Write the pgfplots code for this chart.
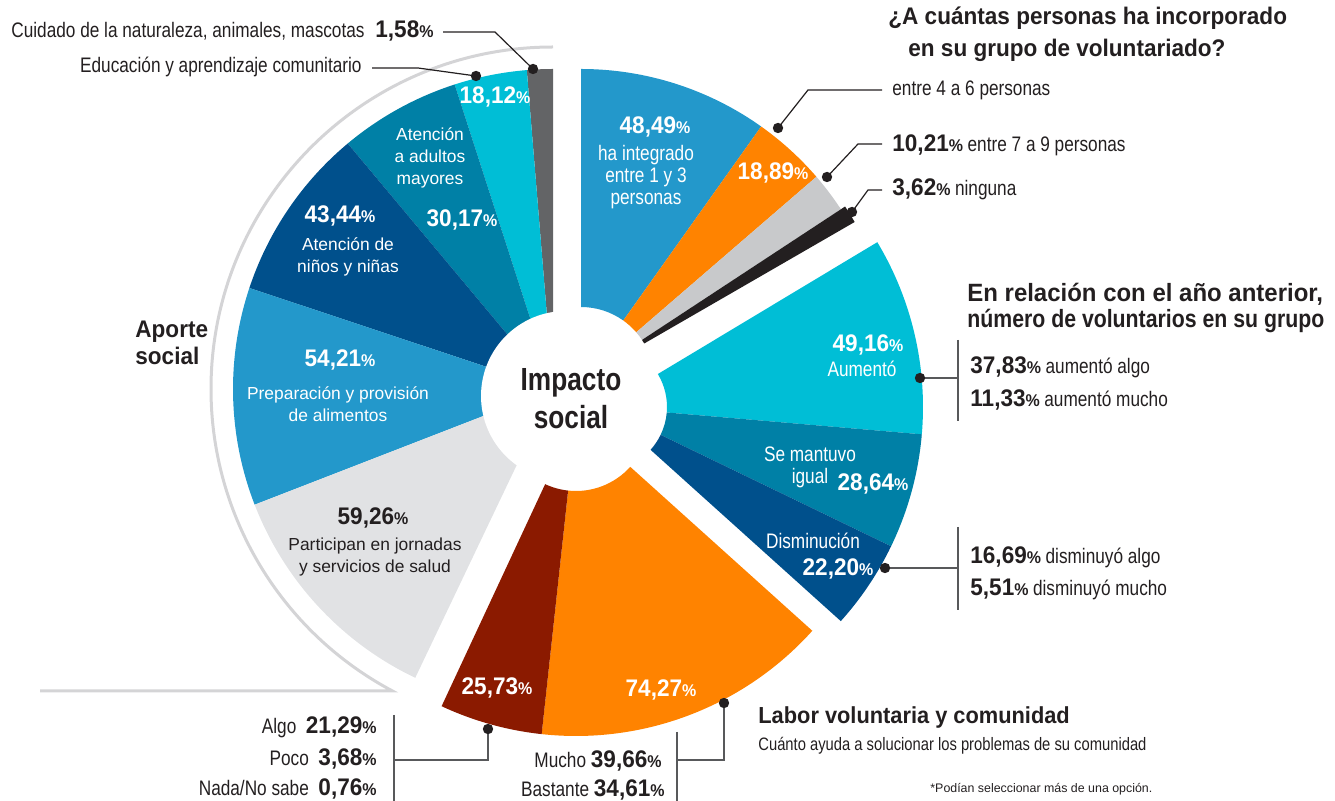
\documentclass[border=0pt]{standalone}
\usepackage{fontspec}
\setmainfont{Liberation Sans}[FakeStretch=0.82]
\newfontfamily\hd{Liberation Sans}[FakeStretch=0.94]
\newfontfamily\wide{Liberation Sans}
\usepackage{pgfplots}
\pgfplotsset{compat=1.18}

\definecolor{cblue}{HTML}{2398CB}
\definecolor{corange}{HTML}{FF8300}
\definecolor{cgray}{HTML}{C8C9CB}
\definecolor{cblack}{HTML}{231F20}
\definecolor{ccyan}{HTML}{00BED6}
\definecolor{cteal}{HTML}{0080A6}
\definecolor{cdblue}{HTML}{00508C}
\definecolor{cdred}{HTML}{8B1A00}
\definecolor{clgray}{HTML}{E1E2E4}
\definecolor{cdgray}{HTML}{636466}
\definecolor{ctext}{HTML}{231F20}
\definecolor{cring}{HTML}{D4D4D6}
\definecolor{cbar}{HTML}{58595B}

% ring sector: centre x, centre y, start angle, end angle, inner r, outer r, colour (pixels)
\newcommand{\sector}[7]{%
  \fill[#7] ([shift={({#3}:{#5*0.5pt})}]axis cs:#1,#2)
    -- ([shift={({#3}:{#6*0.5pt})}]axis cs:#1,#2)
    arc[start angle={#3}, end angle={#4}, radius={#6*0.5pt}]
    -- ([shift={({#4}:{#5*0.5pt})}]axis cs:#1,#2)
    arc[start angle={#4}, end angle={#3}, radius={#5*0.5pt}] -- cycle;}
\newcommand{\ldot}[2]{\fill[ctext] (axis cs:#1,#2) circle[radius=2.6pt];}
\newcommand\pc{{\fontsize{8.5}{9}\selectfont\%}}
\newcommand\nm[1]{{\hd\bfseries\fontsize{12}{13}\selectfont#1\pc}}
\newcommand\tx{\fontsize{10.5}{11}\selectfont}

\begin{document}
\begin{tikzpicture}[every node/.style={inner sep=0pt}]
\begin{axis}[name=ax, x=0.5pt, y=0.5pt, xmin=0, xmax=1335, ymin=0, ymax=801,
  y dir=reverse, hide axis, clip=false, anchor=south west, at={(0,0)},
  disabledatascaling]

% outer ring of "Aporte social"
\draw[cring, line width=1.5pt] ([shift={(90:171pt)}]axis cs:553,389)
  arc[start angle=90, end angle=242, radius=171pt] -- (axis cs:40,691);

% Aporte social (k = 0.73 deg per %)
\sector{553}{389}{90}{94.7}{66}{320}{cdgray}     % 1,58
\sector{553}{389}{94.7}{107.9}{66}{320}{ccyan}   % 18,12
\sector{553}{389}{107.9}{129.9}{66}{320}{cteal}  % 30,17
\sector{553}{389}{129.9}{161.6}{66}{320}{cdblue} % 43,44
\sector{553}{389}{161.6}{201.2}{66}{320}{cblue}  % 54,21
\sector{553}{389}{201.2}{244.5}{66}{320}{clgray} % 59,26

% personas incorporadas
\sector{581}{380}{90}{54.6}{73}{311}{cblue}      % 48,49
\sector{581}{380}{54.6}{40.8}{73}{311}{corange}  % 18,89
\sector{581}{380}{40.8}{33.3}{73}{311}{cgray}    % 10,21
\sector{581}{380}{33.3}{30.0}{73}{316}{cblack}   % 3,62

% año anterior
\sector{603}{407}{31}{-4.9}{64}{320}{ccyan}      % 49,16
\sector{603}{407}{-4.9}{-25.8}{64}{320}{cteal}   % 28,64
\sector{603}{407}{-25.8}{-42}{64}{320}{cdblue}   % 22,20

% labor voluntaria
\sector{576}{418}{-42}{-96.2}{73}{318}{corange}  % 74,27
\sector{576}{418}{-96.2}{-115}{73}{318}{cdred}   % 25,73

\fill[white] (axis cs:566,396) circle[radius=42.5pt];
\node[align=center, text=ctext, font=\bfseries\fontsize{16}{19}\selectfont] at (axis cs:571,399) {Impacto\\social};

% leaders
\draw[ctext, line width=0.6pt] (axis cs:443,32) -- (axis cs:495,32) -- (axis cs:533,69);
\draw[ctext, line width=0.6pt] (axis cs:372,68) -- (axis cs:418,68) -- (axis cs:476,76);
\draw[ctext, line width=0.6pt] (axis cs:778,128) -- (axis cs:808,90) -- (axis cs:882,90);
\draw[ctext, line width=0.6pt] (axis cs:827,177) -- (axis cs:858,144) -- (axis cs:882,144);
\draw[ctext, line width=0.6pt] (axis cs:852,212) -- (axis cs:868,190) -- (axis cs:882,190);
\draw[cbar, line width=0.8pt] (axis cs:920,378) -- (axis cs:958,378);
\draw[cbar, line width=0.8pt] (axis cs:958,340) -- (axis cs:958,421);
\draw[cbar, line width=0.8pt] (axis cs:885,568) -- (axis cs:958,568);
\draw[cbar, line width=0.8pt] (axis cs:958,527) -- (axis cs:958,610);
\draw[cbar, line width=0.8pt] (axis cs:394,715) -- (axis cs:394,801);
\draw[cbar, line width=0.8pt] (axis cs:394,760) -- (axis cs:488,760) -- (axis cs:488,729);
\draw[cbar, line width=0.8pt] (axis cs:677,732) -- (axis cs:677,801);
\draw[cbar, line width=0.8pt] (axis cs:677,760) -- (axis cs:724,760) -- (axis cs:724,703);
\ldot{533}{69} \ldot{476}{76} \ldot{778}{128} \ldot{827}{177} \ldot{852}{212}
\ldot{920}{378} \ldot{885}{568} \ldot{488}{729} \ldot{724}{703}

% top left texts
\node[anchor=east, text=ctext] at (axis cs:365,31) {\tx Cuidado de la naturaleza, animales, mascotas};
\node[anchor=west, text=ctext] at (axis cs:375,31) {\nm{1,58}};
\node[anchor=east, text=ctext] at (axis cs:362,67) {\tx Educación y aprendizaje comunitario};
\node[anchor=west, align=left, text=ctext, font=\hd\bfseries\fontsize{12}{13.5}\selectfont] at (axis cs:135,343) {Aporte\\social};

% top right texts
\node[anchor=west, text=ctext, font=\hd\bfseries\fontsize{12}{13}\selectfont] at (axis cs:888,18) {¿A cuántas personas ha incorporado};
\node[anchor=west, text=ctext, font=\hd\bfseries\fontsize{12}{13}\selectfont] at (axis cs:908,50) {en su grupo de voluntariado?};
\node[anchor=west, text=ctext] at (axis cs:892,90) {\tx entre 4 a 6 personas};
\node[anchor=west, text=ctext] at (axis cs:892,145) {\nm{10,21} \tx entre 7 a 9 personas};
\node[anchor=west, text=ctext] at (axis cs:892,189) {\nm{3,62} \tx ninguna};

% right texts
\node[anchor=west, text=ctext, font=\hd\bfseries\fontsize{12.5}{13}\selectfont] at (axis cs:967,294) {\scalebox{1.02}[1]{En relación con el año anterior,}};
\node[anchor=west, text=ctext, font=\hd\bfseries\fontsize{12.5}{13}\selectfont] at (axis cs:967,321) {\scalebox{0.905}[1]{número de voluntarios en su grupo}};
\node[anchor=west, text=ctext] at (axis cs:970,367) {\nm{37,83} \tx aumentó algo};
\node[anchor=west, text=ctext] at (axis cs:970,400) {\nm{11,33} \tx aumentó mucho};
\node[anchor=west, text=ctext] at (axis cs:970,557) {\nm{16,69} \tx disminuyó algo};
\node[anchor=west, text=ctext] at (axis cs:970,589) {\nm{5,51} \tx disminuyó mucho};

% bottom texts
\node[anchor=east, text=ctext] at (axis cs:377,727) {\tx Algo\ \ \nm{21,29}};
\node[anchor=east, text=ctext] at (axis cs:377,759) {\tx Poco\ \ \nm{3,68}};
\node[anchor=east, text=ctext] at (axis cs:377,789) {\tx Nada/No sabe\ \ \nm{0,76}};
\node[anchor=east, text=ctext] at (axis cs:662,761) {\tx Mucho \nm{39,66}};
\node[anchor=east, text=ctext] at (axis cs:665,790) {\tx Bastante \nm{34,61}};
\node[anchor=west, text=ctext, font=\hd\bfseries\fontsize{11.6}{13}\selectfont] at (axis cs:758,718) {Labor voluntaria y comunidad};
\node[anchor=west, text=ctext, font=\fontsize{9}{10}\selectfont] at (axis cs:758,746) {Cuánto ayuda a solucionar los problemas de su comunidad};
\node[anchor=west, text=ctext, font=\wide\fontsize{6.2}{7}\selectfont] at (axis cs:930,789) {*Podían seleccionar más de una opción.};

% inner labels
\node[text=white] at (axis cs:655,127) {\nm{48,49}};
\node[align=center, text=white, font=\fontsize{10.5}{11}\selectfont] at (axis cs:646,177) {ha integrado\\entre 1 y 3\\personas};
\node[text=white] at (axis cs:773,173) {\nm{18,89}};
\node[text=white] at (axis cs:868,345) {\nm{49,16}};
\node[text=white] at (axis cs:862,369) {\tx Aumentó};
\node[align=center, text=white, font=\fontsize{10.5}{11}\selectfont] at (axis cs:810,467) {Se mantuvo\\igual};
\node[text=white] at (axis cs:873,484) {\nm{28,64}};
\node[text=white] at (axis cs:813,541) {\tx Disminución};
\node[text=white] at (axis cs:838,569) {\nm{22,20}};
\node[text=white] at (axis cs:661,690) {\nm{74,27}};
\node[text=white] at (axis cs:497,688) {\nm{25,73}};
\node[text=ctext] at (axis cs:373,518) {\nm{59,26}};
\node[align=center, text=ctext, font=\wide\fontsize{8.7}{11}\selectfont] at (axis cs:375,557) {Participan en jornadas\\y servicios de salud};
\node[text=white] at (axis cs:340,360) {\nm{54,21}};
\node[align=center, text=white, font=\wide\fontsize{8.7}{11}\selectfont] at (axis cs:338,404) {Preparación y provisión\\de alimentos};
\node[text=white] at (axis cs:340,216) {\nm{43,44}};
\node[align=center, text=white, font=\wide\fontsize{8.7}{11}\selectfont] at (axis cs:348,257) {Atención de\\niños y niñas};
\node[align=center, text=white, font=\wide\fontsize{8.7}{11}\selectfont] at (axis cs:430,158) {Atención\\a adultos\\mayores};
\node[text=white] at (axis cs:462,220) {\nm{30,17}};
\node[text=white] at (axis cs:495,97) {\nm{18,12}};
\end{axis}
\pgfresetboundingbox
\path (ax.south west) rectangle (ax.north east);
\end{tikzpicture}
\end{document}
